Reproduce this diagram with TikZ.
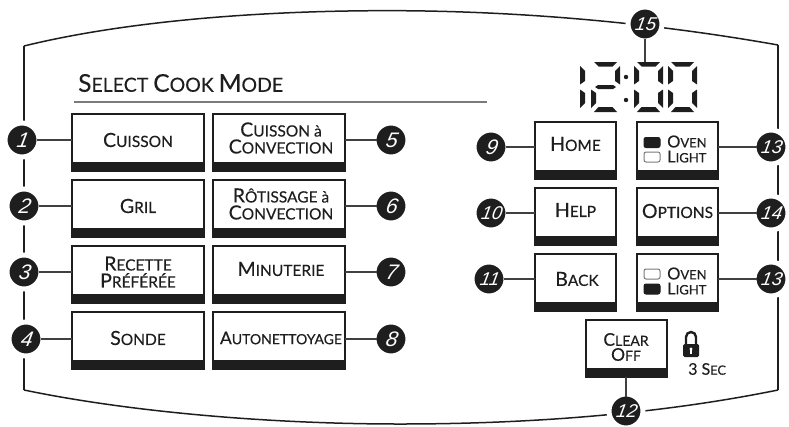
\documentclass[tikz,border=0pt]{standalone}
\usepackage{fontspec}
\setmainfont[FakeBold=0.25]{Lato}
\newfontfamily\numfont[FakeSlant=0.18]{Liberation Sans}
\definecolor{ink}{HTML}{1E1E1E}
\definecolor{rulegray}{HTML}{7A7A7A}
\newcommand{\cp}[2]{{\fontsize{19.5}{17}\selectfont #1}{\fontsize{15.5}{17}\selectfont #2}}
\newcommand{\cs}[2]{{\fontsize{17.5}{15}\selectfont #1}{\fontsize{14}{15}\selectfont #2}}
\newcommand{\co}[2]{{\fontsize{16.5}{15}\selectfont #1}{\fontsize{13}{15}\selectfont #2}}
\tikzset{
  btn/.style={draw=ink,line width=1.8pt,fill=white,minimum width=#1,minimum height=49pt,anchor=north west,inner sep=0pt,outer sep=0pt,text=ink,align=center},
  band/.style={fill=ink,draw=none},
  num/.style={circle,fill=ink,draw=white,line width=5pt,minimum size=34pt,inner sep=0pt,outer sep=-2.5pt,text=white,font=\numfont\itshape\fontsize{21}{21}\selectfont},
  numtwo/.style={num,font=\numfont\itshape\fontsize{18.5}{18.5}\selectfont},
  leader/.style={draw=ink!85,line width=1.1pt},
  frame/.style={draw=ink,line width=1.5pt},
  seg/.style={fill=ink,draw=none},
  lbl/.style={text=ink,align=center,inner sep=0pt,font=\fontsize{15.5}{17}\selectfont},
  lblsmall/.style={text=ink,inner sep=0pt,font=\fontsize{14}{15}\selectfont}
}
\newcommand{\btnbox}[4]{%
  \node[btn=#4pt] (#1) at (#2,#3) {};
  \fill[band] (#2-.9,#3+49) rectangle (#2+#4+.9,#3+57.5);
}
\newcommand{\sT}[2]{\fill[seg] (#1+3,62) -- (#1+#2-3,62) -- (#1+#2-7.5,66.5) -- (#1+7.5,66.5) -- cycle;}
\newcommand{\sB}[2]{\fill[seg] (#1+3,112) -- (#1+#2-3,112) -- (#1+#2-7.5,107) -- (#1+7.5,107) -- cycle;}
\newcommand{\sM}[2]{\fill[seg] (#1+4,87) -- (#1+7,85) -- (#1+#2-7,85) -- (#1+#2-4,87) -- (#1+#2-7,89) -- (#1+7,89) -- cycle;}
\newcommand{\sUL}[1]{\fill[seg] (#1,66) -- (#1+5,71) -- (#1+5,81) -- (#1,84.5) -- cycle;}
\newcommand{\sLL}[1]{\fill[seg] (#1,89.5) -- (#1+5,93) -- (#1+5,103) -- (#1,108) -- cycle;}
\newcommand{\sUR}[1]{\fill[seg] (#1,66) -- (#1-5,71) -- (#1-5,81) -- (#1,84.5) -- cycle;}
\newcommand{\sLR}[1]{\fill[seg] (#1,89.5) -- (#1-5,93) -- (#1-5,103) -- (#1,108) -- cycle;}
\newcommand{\zerod}[1]{\sT{#1}{29}\sB{#1}{29}\sUL{#1}\sLL{#1}\sUR{#1+29}\sLR{#1+29}}
\begin{document}
\begin{tikzpicture}[x=1pt,y=-1pt]
\useasboundingbox (0,0) rectangle (789,426);
% frame
\coordinate (tl) at (24,46);
\coordinate (tm) at (400,10.7);
\coordinate (tr) at (778,45);
\coordinate (bl) at (24,390);
\coordinate (bm) at (400,424);
\coordinate (br) at (778,390);
\draw[frame] (tl) .. controls (130,20) and (270,10) .. (tm) .. controls (530,11.5) and (660,24) .. (tr);
\draw[frame] (bl) .. controls (130,412) and (270,424) .. (bm) .. controls (530,424) and (660,414) .. (br);
\draw[frame] (tl) -- (bl);
\draw[frame] (tr) -- (br);
% heading
\node[anchor=west,text=ink,inner sep=0pt,font=\fontsize{19.5}{24}\selectfont] (title) at (78,83) {{\fontsize{24.5}{24}\selectfont S}ELECT {\fontsize{24.5}{24}\selectfont C}OOK {\fontsize{24.5}{24}\selectfont M}ODE};
\coordinate (ruleA) at (74,102);
\coordinate (ruleB) at (487,102);
\draw[draw=rulegray,line width=1.2pt] (ruleA) -- (ruleB);
% buttons
\btnbox{b1}{72}{114}{132}
\btnbox{b2}{72}{180}{132}
\btnbox{b3}{72}{246}{132}
\btnbox{b4}{72}{312}{132}
\btnbox{b5}{213}{114}{132}
\btnbox{b6}{213}{180}{132}
\btnbox{b7}{213}{246}{132}
\btnbox{b8}{213}{312}{132}
\btnbox{b9}{535}{122}{81}
\btnbox{b10}{535}{188}{81}
\btnbox{b11}{535}{254}{81}
\btnbox{b13}{637}{122}{81}
\btnbox{b14}{637}{188}{81}
\btnbox{b13b}{637}{254}{81}
\btnbox{b12}{586}{320}{81}
% button labels
\node[lbl] (t1) at (138,140) {\cp{C}{UISSON}};
\node[lbl] (t2) at (138,206) {\cp{G}{RIL}};
\node[lbl] (t3) at (138,272) {\cp{R}{ECETTE}\\\cp{P}{RÉFÉRÉE}};
\node[lbl] (t4) at (138,338) {\cp{S}{ONDE}};
\node[lbl] (t5) at (281,138) {\cp{C}{UISSON à}\\\cp{C}{ONVECTION}};
\node[lbl] (t6) at (281,204) {\cp{R}{ÔTISSAGE à}\\\cp{C}{ONVECTION}};
\node[lbl] (t7) at (281,269) {\cp{M}{INUTERIE}};
\node[lbl] (t8) at (281,338) {\cs{A}{UTONETTOYAGE}};
\node[lbl] (t9) at (575.5,144) {\cp{H}{OME}};
\node[lbl] (t10) at (575.5,210) {\cp{H}{ELP}};
\node[lbl] (t11) at (577,279) {\cp{B}{ACK}};
\node[lbl] (t14) at (677.5,211) {\cp{O}{PTIONS}};
\node[lblsmall,align=center] (t12) at (626,347) {\cs{C}{LEAR}\\\cs{O}{FF}};
% oven light
\node[lblsmall,anchor=west,align=left] (o1) at (667,149) {\co{O}{VEN}\\\co{L}{IGHT}};
\node[lblsmall,anchor=west,align=left] (o2) at (667,281) {\co{O}{VEN}\\\co{L}{IGHT}};
\draw[fill=ink,draw=ink,line width=1pt,rounded corners=2pt] (644,137.5) rectangle (660,147.5);
\draw[fill=white,draw=rulegray,line width=1pt,rounded corners=2pt] (644,152) rectangle (660,162);
\draw[fill=white,draw=rulegray,line width=1pt,rounded corners=2pt] (644,269) rectangle (660,279);
\draw[fill=ink,draw=ink,line width=1pt,rounded corners=2pt] (644,284) rectangle (660,294);
% LCD
\sUL{580}\sLL{580}
\sT{591}{29}\sM{591}{29}\sB{591}{29}\sUR{620}\sLL{591}
\fill[seg] (626,77) circle (2.2);
\fill[seg] (626,100) circle (2.2);
\zerod{634}
\zerod{668}
\coordinate (lcdtop) at (645,62);
% lock
\draw[ink,line width=2.4pt] (686,346) -- (686,337) arc[start angle=180,end angle=0,x radius=5,y radius=-5] -- (696,346);
\fill[ink,rounded corners=1.5pt] (683,344) rectangle (699,357);
\fill[white] (691,349) circle (1.7);
\fill[white] (690.2,349) rectangle (691.8,354);
\node[text=ink,anchor=west,inner sep=0pt] (sec) at (688,369) {{\fontsize{16}{16}\selectfont 3 S}{\fontsize{12.8}{16}\selectfont EC}};
% numbers
\node[num] (n1) at (22,140) {1};
\node[num] (n2) at (24,206) {2};
\node[num] (n3) at (24,272) {3};
\node[num] (n4) at (26,339) {4};
\node[num] (n5) at (391,140) {5};
\node[num] (n6) at (391,206) {6};
\node[num] (n7) at (391,272) {7};
\node[num] (n8) at (391,339) {8};
\node[num] (n9) at (491,147) {9};
\node[numtwo] (n10) at (491,213) {10};
\node[numtwo] (n11) at (489,279) {11};
\node[numtwo] (n12) at (626,411) {12};
\node[numtwo] (n13) at (771,147) {13};
\node[numtwo] (n14) at (771,213) {14};
\node[numtwo] (n13b) at (771,279) {13};
\node[numtwo] (n15) at (645,24) {15};
% leaders
\draw[leader] (n1.east) -- (b1.west |- n1.east);
\draw[leader] (n2.east) -- (b2.west |- n2.east);
\draw[leader] (n3.east) -- (b3.west |- n3.east);
\draw[leader] (n4.east) -- (b4.west |- n4.east);
\draw[leader] (n5.west) -- (b5.east |- n5.west);
\draw[leader] (n6.west) -- (b6.east |- n6.west);
\draw[leader] (n7.west) -- (b7.east |- n7.west);
\draw[leader] (n8.west) -- (b8.east |- n8.west);
\draw[leader] (n9.east) -- (b9.west |- n9.east);
\draw[leader] (n10.east) -- (b10.west |- n10.east);
\draw[leader] (n11.east) -- (b11.west |- n11.east);
\draw[leader] (n13.west) -- (b13.east |- n13.west);
\draw[leader] (n14.west) -- (b14.east |- n14.west);
\draw[leader] (n13b.west) -- (b13b.east |- n13b.west);
\draw[leader] (n12.north) -- (n12.north |- 0,377);
\draw[leader] (n15.south) -- (lcdtop);
\end{tikzpicture}
\end{document}
